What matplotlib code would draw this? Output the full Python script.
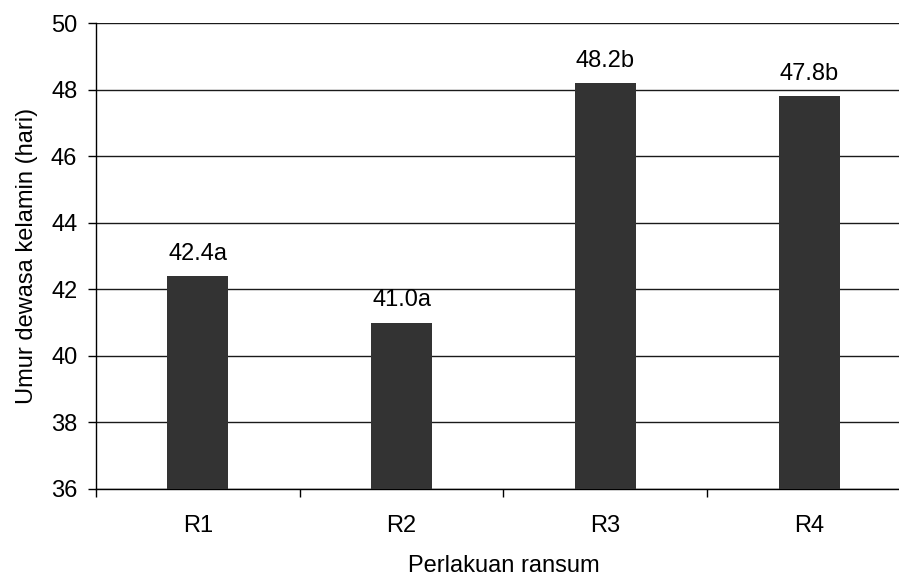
import matplotlib
matplotlib.use("Agg")
import matplotlib.pyplot as plt

categories = ["R1", "R2", "R3", "R4"]
values = [42.4, 41.0, 48.2, 47.8]
letters = ["a", "a", "b", "b"]
yticks = [36, 38, 40, 42, 44, 46, 48, 50]

plt.rcParams['font.family'] = ['Liberation Sans', 'DejaVu Sans']

W, H = 899, 577
fig = plt.figure(figsize=(W/100, H/100), dpi=100)
left, right, top, bottom = 96, 911, 23, 489
ax = fig.add_axes([left/W, (H-bottom)/H, (right-left)/W, (bottom-top)/H])

x = list(range(len(categories)))
ax.bar(x, values, width=0.3, color='#333333', zorder=3)
ax.set_xlim(-0.5, len(categories)-0.5)
ax.set_ylim(36, 50)
ax.set_yticks(yticks)
ax.set_yticklabels([str(v) for v in yticks])
ax.yaxis.grid(True, color='#1a1a1a', linewidth=1.0, zorder=0)
ax.set_axisbelow(True)

ax.set_xticks(x)
ax.set_xticklabels(categories)
ax.set_xticks([i - 0.5 for i in range(len(categories)+1)], minor=True)
ax.tick_params(axis='x', which='major', length=0, pad=19, labelsize=17)
ax.tick_params(axis='x', which='minor', length=6, width=1, color='black', direction='out')
ax.tick_params(axis='y', length=6, width=1, color='black', pad=7.5, labelsize=17)

for s in ['top', 'right']:
    ax.spines[s].set_visible(False)
for s in ['left', 'bottom']:
    ax.spines[s].set_color('black')
    ax.spines[s].set_linewidth(1.0)

for xi, v, l in zip(x, values, letters):
    ax.annotate(f"{v:.1f}{l}", (xi, v), xytext=(0, 8), textcoords='offset points',
                ha='center', va='bottom', fontsize=17)

ax.set_ylabel("Umur dewasa kelamin (hari)", fontsize=17, labelpad=9)
ax.set_xlabel("Perlakuan ransum", fontsize=17, labelpad=13)

fig.savefig("out.png", dpi=100)
